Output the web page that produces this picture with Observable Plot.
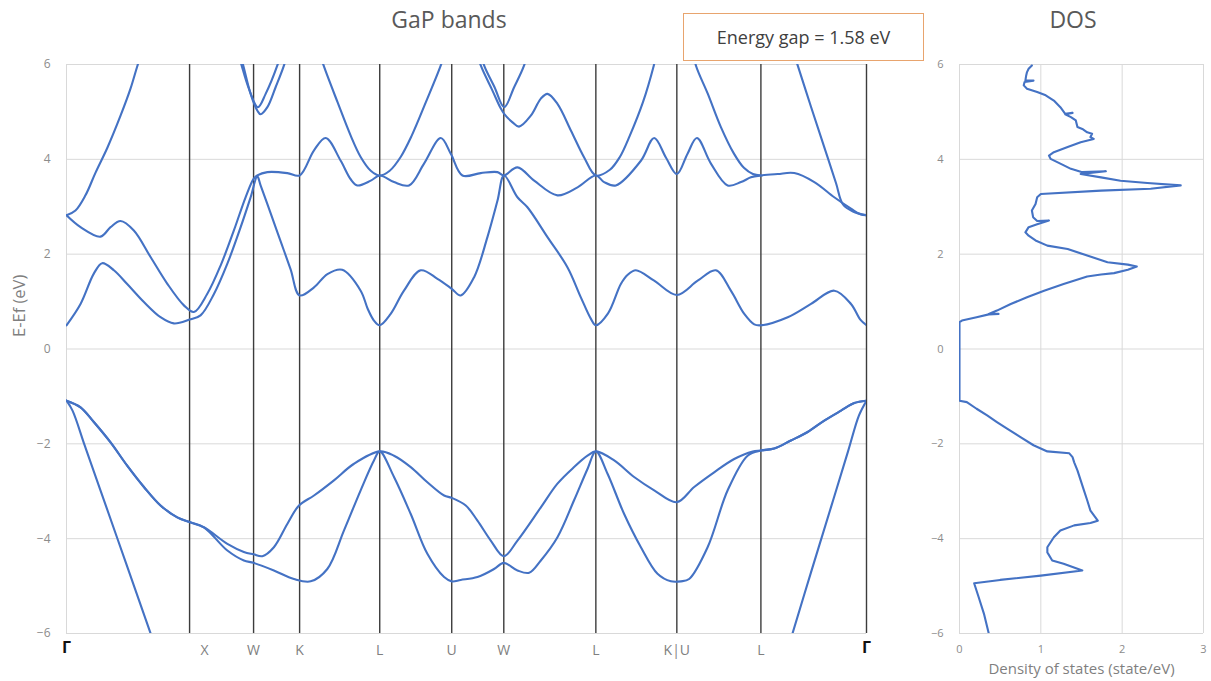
<!DOCTYPE html>
<html><head><meta charset="utf-8">
<script src="https://cdn.jsdelivr.net/npm/d3@7"></script>
<script src="https://cdn.jsdelivr.net/npm/@observablehq/plot@0.6"></script>
<style>
body{margin:0;background:#fff;font-family:"Open Sans",sans-serif;}
#wrap{position:relative;width:1211px;height:681px;overflow:hidden;background:#fff;}
#bands{position:absolute;left:0;top:0;}
#dos{position:absolute;left:900px;top:0;}
.title{position:absolute;top:3px;font-size:23px;color:#595959;transform:translateX(-50%);white-space:nowrap;}
#gap{position:absolute;left:683px;top:13px;width:239px;height:46px;border:1px solid #e8a46e;background:#fff;display:flex;align-items:center;justify-content:center;font-size:18px;color:#404040;z-index:5;}
</style></head><body>
<div id="wrap">
  <div id="bands"></div>
  <div id="dos"></div>
  <div class="title" style="left:449px">GaP bands</div>
  <div class="title" style="left:1073px">DOS</div>
  <div id="gap">Energy gap = 1.58 eV</div>
</div>
<script>
// k-path positions of high-symmetry points and their labels
const kTicks = [0, 1.0, 1.52, 1.894, 2.545, 3.13, 3.553, 4.301, 4.959, 5.642, 6.5];
const kLabels = ["Γ","X","W","K","L","U","W","L","K|U","L","Γ"];
const eTicks = [-6,-4,-2,0,2,4,6];
const dosTicks = [0,1,2,3];

// bands: [k, E(eV)], null = break (band leaves the window)
const vb2 = [
 [0,-1.09],[0.049,-1.30],[0.15,-2.05],[0.276,-2.98],[0.48,-4.49],[0.689,-6.04],[0.764,-6.6],
 null,
 [5.805,-6.8],[5.894,-6.04],[6.049,-4.71],[6.211,-3.34],[6.35,-2.16],[6.439,-1.40],[6.5,-1.09]
];
const vb3 = [
 [0,-1.09],[0.114,-1.23],[0.222,-1.54],[0.358,-1.97],[0.493,-2.46],[0.629,-2.91],[0.764,-3.30],[0.90,-3.55],[1.0,-3.65],
 [1.116,-3.76],[1.307,-4.25],[1.441,-4.46],[1.52,-4.51],[1.685,-4.67],[1.848,-4.85],[1.984,-4.90],[2.119,-4.64],[2.254,-3.83],[2.390,-2.98],[2.498,-2.35],[2.545,-2.16],
 [2.661,-2.70],[2.797,-3.48],[2.932,-4.32],[3.068,-4.81],[3.130,-4.90],[3.203,-4.87],[3.339,-4.81],[3.474,-4.64],[3.553,-4.51],
 [3.664,-4.67],[3.759,-4.72],[3.854,-4.46],[3.989,-3.97],[4.124,-3.19],[4.233,-2.53],[4.301,-2.16],
 [4.396,-2.63],[4.531,-3.48],[4.667,-4.18],[4.802,-4.74],[4.911,-4.90],[4.992,-4.90],[5.059,-4.85],[5.209,-4.18],[5.372,-2.98],[5.534,-2.25],[5.642,-2.14],
 [5.75,-2.10],[5.886,-1.93],[6.022,-1.75],[6.157,-1.51],[6.293,-1.30],[6.401,-1.14],[6.5,-1.09]
];
const vb4 = [
 [0,-1.09],[0.114,-1.23],[0.222,-1.54],[0.358,-1.97],[0.493,-2.46],[0.629,-2.91],[0.764,-3.30],[0.90,-3.55],[1.0,-3.65],
 [1.116,-3.76],[1.307,-4.11],[1.441,-4.28],[1.52,-4.33],[1.591,-4.37],[1.685,-4.18],[1.794,-3.69],[1.889,-3.30],[2.011,-3.09],[2.173,-2.77],[2.336,-2.42],[2.545,-2.16],
 [2.661,-2.25],[2.797,-2.49],[2.932,-2.81],[3.068,-3.09],[3.130,-3.14],[3.244,-3.30],[3.339,-3.62],[3.447,-4.04],[3.553,-4.37],
 [3.664,-4.04],[3.854,-3.34],[3.989,-2.84],[4.124,-2.49],[4.233,-2.25],[4.301,-2.16],
 [4.450,-2.35],[4.612,-2.70],[4.775,-2.98],[4.959,-3.23],
 [5.100,-2.91],[5.262,-2.60],[5.425,-2.32],[5.575,-2.16],[5.642,-2.14],
 [5.75,-2.10],[5.886,-1.93],[6.022,-1.75],[6.157,-1.51],[6.293,-1.30],[6.401,-1.14],[6.5,-1.09]
];
const cb5 = [
 [0,0.50],[0.114,0.95],[0.222,1.59],[0.290,1.81],[0.385,1.66],[0.493,1.37],[0.629,0.99],[0.764,0.67],[0.872,0.54],[1.0,0.62],
 [1.089,0.71],[1.198,1.16],[1.307,1.80],[1.415,2.57],[1.496,3.20],[1.550,3.64],
 [1.577,3.45],[1.659,2.86],[1.740,2.27],[1.821,1.68],[1.894,1.13],
 [2.011,1.30],[2.120,1.58],[2.24,1.67],[2.390,1.23],[2.447,0.85],[2.498,0.60],[2.545,0.50],
 [2.634,0.74],[2.742,1.23],[2.878,1.66],[3.014,1.48],[3.130,1.27],[3.203,1.13],[3.311,1.51],[3.420,2.36],[3.502,3.13],[3.555,3.66],
 [3.664,3.20],[3.745,2.99],[3.908,2.36],[4.071,1.72],[4.179,1.09],[4.26,0.64],[4.301,0.50],
 [4.40,0.75],[4.504,1.37],[4.558,1.56],[4.626,1.66],[4.775,1.44],[4.959,1.14],[5.128,1.44],[5.276,1.66],[5.398,1.23],[5.507,0.74],[5.588,0.52],[5.642,0.50],
 [5.860,0.67],[6.049,0.95],[6.238,1.23],[6.374,0.95],[6.45,0.62],[6.5,0.50]
];
const cb6 = [
 [0,2.82],[0.114,2.57],[0.276,2.37],[0.358,2.57],[0.439,2.70],[0.547,2.50],[0.683,1.94],[0.818,1.38],[0.954,0.92],[1.035,0.78],
 [1.143,1.16],[1.252,1.76],[1.360,2.50],[1.455,3.20],[1.52,3.59],[1.550,3.66],
 [1.632,3.73],[1.794,3.71],[1.894,3.66],
 [2.011,4.19],[2.106,4.45],[2.228,3.97],[2.309,3.58],[2.363,3.45],[2.472,3.55],[2.545,3.66],
 [2.661,3.52],[2.783,3.45],[2.905,3.91],[3.041,4.45],[3.122,4.12],[3.217,3.66],[3.366,3.71],[3.502,3.73],[3.553,3.66],
 [3.664,3.83],[3.800,3.55],[3.989,3.24],[4.152,3.41],[4.301,3.66],
 [4.368,3.52],[4.463,3.45],[4.667,3.97],[4.775,4.45],[4.870,4.04],[4.959,3.69],[5.046,4.12],[5.122,4.45],[5.236,3.91],[5.372,3.45],[5.480,3.52],[5.561,3.62],[5.642,3.66],
 [5.778,3.69],[5.913,3.71],[6.076,3.52],[6.238,3.20],[6.374,2.96],[6.45,2.84],[6.5,2.82]
];
const cb7 = [
 [0,2.82],[0.073,2.92],[0.154,3.24],[0.236,3.72],[0.333,4.25],[0.439,4.92],[0.520,5.49],[0.577,5.98],[0.618,6.3],
 null,
 [1.40,6.3],[1.436,5.98],[1.496,5.38],[1.550,5.03],[1.577,4.95],[1.632,5.10],[1.699,5.52],[1.767,5.98],[1.80,6.3],
 null,
 [2.05,6.3],[2.089,5.98],[2.203,5.20],[2.309,4.50],[2.390,4.05],[2.472,3.76],[2.545,3.66],[2.626,3.76],[2.715,4.05],[2.805,4.50],[2.919,5.20],[3.041,5.98],[3.08,6.3],
 null,
 [3.33,6.3],[3.366,5.98],[3.461,5.45],[3.529,5.07],[3.556,4.96],[3.624,4.78],[3.677,4.69],[3.772,4.92],[3.854,5.28],[3.908,5.38],[3.989,5.17],[4.098,4.61],[4.206,4.04],[4.301,3.66],
 [4.415,3.78],[4.496,4.05],[4.577,4.50],[4.683,5.20],[4.772,5.98],[4.80,6.3],
 null,
 [5.09,6.3],[5.114,5.98],[5.211,5.38],[5.317,4.68],[5.423,4.12],[5.504,3.82],[5.577,3.69],[5.642,3.66]
];
const cb8 = [
 [1.39,6.3],[1.423,5.98],[1.482,5.49],[1.555,5.10],[1.618,5.38],[1.713,5.98],[1.75,6.3],
 null,
 [3.36,6.3],[3.393,5.98],[3.478,5.52],[3.556,5.10],[3.637,5.52],[3.718,5.98],[3.75,6.3],
 null,
 [5.90,6.3],[5.941,5.98],[6.049,5.11],[6.154,4.28],[6.252,3.50],[6.309,3.05],[6.390,2.90],[6.5,2.82]
];

// density of states: [DOS (state/eV), E (eV)] traced top to bottom
const dosPts = [
 [0.89,5.98],[0.85,5.91],[0.83,5.84],[0.82,5.77],[0.81,5.66],[0.91,5.66],[0.80,5.63],[0.79,5.56],[0.83,5.49],[0.955,5.42],
 [1.06,5.35],[1.16,5.24],[1.24,5.10],[1.30,4.96],[1.39,4.98],[1.30,4.95],[1.37,4.89],[1.43,4.82],[1.45,4.68],[1.51,4.64],
 [1.57,4.57],[1.63,4.54],[1.61,4.47],[1.65,4.43],[1.49,4.36],[1.33,4.26],[1.16,4.15],[1.10,4.08],[1.12,4.01],[1.24,3.91],
 [1.37,3.80],[1.51,3.73],[1.80,3.75],[1.49,3.69],[1.74,3.62],[1.98,3.55],[2.31,3.50],[2.72,3.45],[2.35,3.38],[1.74,3.34],
 [1.00,3.27],[0.955,3.20],[0.935,3.06],[0.89,2.92],[0.905,2.78],[0.955,2.70],[1.10,2.71],[0.955,2.63],[0.85,2.57],[0.81,2.46],
 [0.85,2.39],[0.935,2.29],[1.08,2.18],[1.33,2.11],[1.57,1.97],[1.82,1.83],[2.07,1.78],[2.18,1.74],[2.07,1.67],[1.90,1.60],
 [1.74,1.57],[1.57,1.53],[1.28,1.37],[1.04,1.23],[0.83,1.09],[0.63,0.95],[0.46,0.81],[0.36,0.74],[0.48,0.74],[0.36,0.73],
 [0.21,0.67],[0.03,0.60],[0,0.565],[0,-1.09],[0.09,-1.12],[0.21,-1.26],[0.34,-1.40],[0.46,-1.54],[0.585,-1.68],[0.75,-1.86],
 [0.91,-2.03],[1.08,-2.16],[1.35,-2.20],[1.39,-2.28],[1.41,-2.39],[1.45,-2.56],[1.49,-2.77],[1.53,-2.98],[1.57,-3.19],[1.61,-3.41],
 [1.70,-3.62],[1.61,-3.67],[1.41,-3.72],[1.24,-3.83],[1.16,-3.97],[1.08,-4.18],[1.08,-4.29],[1.14,-4.46],[1.28,-4.53],[1.51,-4.67],
 [1.00,-4.78],[0.50,-4.87],[0.18,-4.94],[0.235,-5.23],[0.30,-5.58],[0.36,-6.0]
];

function rowsOf(name, pts) {
  let s = 0; const out = [];
  for (const p of pts) {
    if (p === null) { s++; continue; }
    out.push({seg: name + "-" + s, k: p[0], E: p[1]});
  }
  return out;
}
const bandRows = [
  ...rowsOf("vb2", vb2), ...rowsOf("vb3", vb3), ...rowsOf("vb4", vb4),
  ...rowsOf("cb5", cb5), ...rowsOf("cb6", cb6), ...rowsOf("cb7", cb7), ...rowsOf("cb8", cb8)
];
const labelRows = kLabels.map((t, i) => ({t, k: kTicks[i]}));
const dosRows = dosPts.map(([d, E]) => ({d, E}));

const font = '"Open Sans", sans-serif';

const bandsChart = Plot.plot({
  width: 880, height: 681,
  marginLeft: 66, marginRight: 14, marginTop: 64, marginBottom: 48,
  style: {fontFamily: font, fontSize: "12px", color: "#8c8c8c", background: "transparent", overflow: "visible"},
  x: {domain: [0, 6.5], axis: null},
  y: {domain: [-6, 6], ticks: eTicks, tickSize: 0, tickPadding: 16, label: null},
  marks: [
    Plot.ruleY(eTicks, {stroke: "#d9d9d9"}),
    Plot.ruleX([0], {stroke: "#d9d9d9"}),
    Plot.ruleX(kTicks.slice(1), {stroke: "#3c3c3c", strokeWidth: 1.4}),
    Plot.line(bandRows, {x: "k", y: "E", z: "seg", stroke: "#4472c4", strokeWidth: 2.1, curve: "catmull-rom", clip: true}),
    Plot.text(labelRows.filter(d => d.t !== "Γ" && d.t !== "X"), {x: "k", text: "t", frameAnchor: "bottom", dy: 21, fill: "#7f7f7f", fontSize: 14}),
    Plot.text(labelRows.filter(d => d.t === "X"), {x: "k", text: "t", frameAnchor: "bottom", dy: 21, dx: 15, fill: "#7f7f7f", fontSize: 14}),
    Plot.text(labelRows.filter(d => d.t === "Γ"), {x: "k", text: "t", frameAnchor: "bottom", dy: 19, fill: "#111", fontSize: 16, fontWeight: "bold"}),
    Plot.text(["E-Ef (eV)"], {frameAnchor: "left", dx: -47, dy: -12, rotate: -90, fill: "#7f7f7f", fontSize: 16.5})
  ]
});
document.getElementById("bands").appendChild(bandsChart);

const dosChart = Plot.plot({
  width: 311, height: 681,
  marginLeft: 59, marginRight: 8, marginTop: 64, marginBottom: 48,
  style: {fontFamily: font, fontSize: "11px", color: "#8c8c8c", background: "transparent", overflow: "visible"},
  x: {domain: [0, 3], ticks: dosTicks, tickFormat: d => String(d), tickSize: 0, tickPadding: 12, label: null},
  y: {domain: [-6, 6], ticks: eTicks, tickSize: 0, tickPadding: 16, label: null},
  marks: [
    Plot.ruleY(eTicks, {stroke: "#d9d9d9"}),
    Plot.ruleX(dosTicks, {stroke: "#d9d9d9"}),
    Plot.line(dosRows, {x: "d", y: "E", stroke: "#4472c4", strokeWidth: 2.1, clip: true}),
    Plot.text(["Density of states (state/eV)"], {frameAnchor: "bottom", dy: 40, fill: "#7f7f7f", fontSize: 15})
  ]
});
document.getElementById("dos").appendChild(dosChart);
</script>
</body></html>
